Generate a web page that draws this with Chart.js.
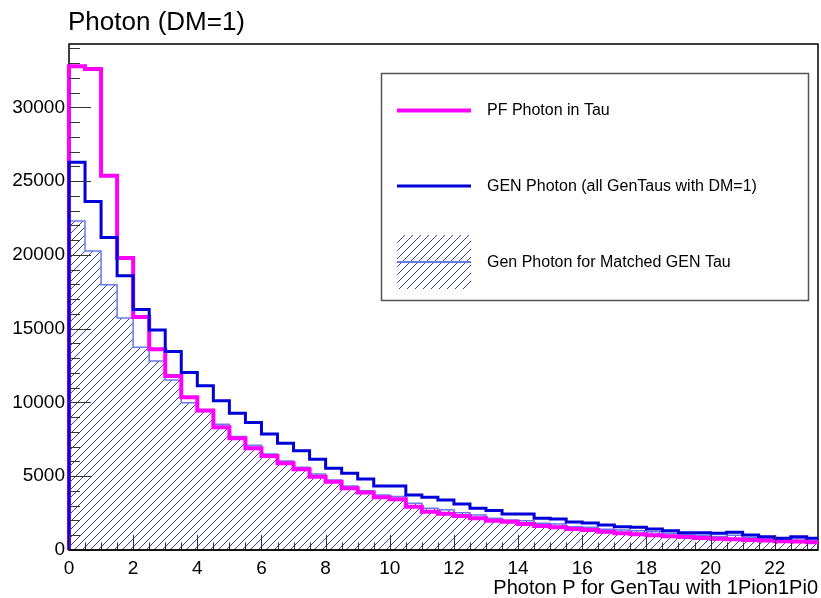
<!DOCTYPE html>
<html>
<head>
<meta charset="utf-8">
<title>Photon (DM=1)</title>
<script src="https://cdn.jsdelivr.net/npm/chart.js@4.4.1/dist/chart.umd.min.js"></script>
<style>
  html, body { margin: 0; padding: 0; background: #fff; }
  #wrap { width: 821px; height: 598px; position: relative; }
</style>
</head>
<body>
<div id="wrap"><canvas id="photonChart"></canvas></div>
<script>
// histogram bins: 0.5 wide, starting at 0
var binWidth = 0.5;

var pfPhoton = [
  32800, 32600, 25370, 19790, 15790, 13610, 11800, 10360, 9450, 8320,
  7580, 6900, 6380, 5880, 5470, 4970, 4630, 4180, 3890, 3570,
  3440, 2940, 2600, 2450, 2310, 2150, 1990, 1920, 1760, 1630,
  1540, 1420, 1360, 1240, 1130, 1070, 1000, 930, 880, 820,
  770, 730, 680, 640, 600, 570, 520
];
var genPhoton = [
  26280, 23630, 21190, 18590, 16300, 14920, 13450, 12030, 11130, 10110,
  9270, 8640, 7870, 7240, 6720, 6150, 5540, 5200, 4820, 4340,
  4340, 3730, 3570, 3390, 3120, 2830, 2670, 2440, 2440, 2150,
  2100, 1900, 1830, 1700, 1580, 1540, 1420, 1310, 1170, 1170,
  1130, 1210, 1020, 900, 790, 900, 800
];
var genMatched = [
  22300, 20260, 17980, 15720, 13750, 12820, 11530, 9990, 9380, 8530,
  7690, 7100, 6510, 6040, 5610, 5160, 4750, 4340, 4020, 3730,
  3620, 3170, 2830, 2720, 2530, 2370, 2150, 2040, 1990, 1810,
  1760, 1580, 1540, 1400, 1360, 1300, 1240, 1130, 1060, 1000,
  920, 1000, 850, 760, 700, 780, 620
];

var xTicks = [0, 2, 4, 6, 8, 10, 12, 14, 16, 18, 20, 22];
var yTicks = [0, 5000, 10000, 15000, 20000, 25000, 30000];
var xMinorStep = 0.5;
var yMinorStep = 1000;

var legendLabels = ['PF Photon in Tau', 'GEN Photon (all GenTaus with DM=1)', 'Gen Photon for Matched GEN Tau'];
var titleText = 'Photon (DM=1)';
var xTitle = 'Photon P for GenTau with 1Pion1Pi0';

var FONT = '"Liberation Sans", Arial, Helvetica, sans-serif';

// turn bin contents into a step outline: start at (0,0), one point per lower edge, close at last upper edge
function toSteps(values) {
  var pts = [{ x: 0, y: 0 }];
  values.forEach(function(v, i) {
    pts.push({ x: i * binWidth, y: v });
  });
  pts.push({ x: values.length * binWidth, y: values[values.length - 1] });
  return pts;
}

var canvas = document.getElementById('photonChart');
var ctx = canvas.getContext('2d');

function makeHatch() {
  var c = document.createElement('canvas');
  c.width = 8; c.height = 8;
  var g = c.getContext('2d');
  g.strokeStyle = '#3440ae';
  g.lineWidth = 1;
  g.beginPath();
  g.moveTo(-2, 10); g.lineTo(10, -2);
  g.moveTo(-2, 2); g.lineTo(2, -2);
  g.moveTo(6, 10); g.lineTo(10, 6);
  g.stroke();
  return ctx.createPattern(c, 'repeat');
}
var hatch = makeHatch();

// frame around the pad, drawn under the histograms
var framePlugin = {
  id: 'frame',
  beforeDatasetsDraw: function(chart) {
    var a = chart.chartArea, c = chart.ctx;
    c.save();
    c.strokeStyle = '#000';
    c.lineWidth = 1.5;
    c.strokeRect(a.left, a.top, a.right - a.left, a.bottom - a.top);
    c.restore();
  }
};

// ROOT style ticks pointing into the pad, plus title, axis title and legend
var decorPlugin = {
  id: 'decor',
  afterDatasetsDraw: function(chart) {
    var a = chart.chartArea, c = chart.ctx;
    var xs = chart.scales.x, ys = chart.scales.y;
    c.save();
    c.strokeStyle = '#333';
    c.lineWidth = 1;
    c.beginPath();
    var v, p;
    for (v = ys.min; v <= ys.max; v += yMinorStep) {
      p = Math.round(ys.getPixelForValue(v)) + 0.5;
      var len = (v % 5000 === 0) ? 22 : 11;
      c.moveTo(a.left, p); c.lineTo(a.left + len, p);
    }
    for (v = 0; v <= xs.max; v += xMinorStep) {
      p = Math.round(xs.getPixelForValue(v)) + 0.5;
      var lx = (v % 2 === 0) ? 15 : 7.5;
      c.moveTo(p, a.bottom); c.lineTo(p, a.bottom - lx);
    }
    c.stroke();

    // axis line along the bottom
    c.strokeStyle = '#000';
    c.lineWidth = 1.5;
    c.beginPath();
    c.moveTo(a.left, a.bottom); c.lineTo(a.right, a.bottom);
    c.stroke();

    // title
    c.fillStyle = '#000';
    c.textBaseline = 'alphabetic';
    c.textAlign = 'left';
    c.font = '26px ' + FONT;
    c.fillText(titleText, 68, 30);

    // x axis title, right aligned
    c.textAlign = 'right';
    c.font = '20px ' + FONT;
    c.fillText(xTitle, a.right, 594);

    // legend box
    var bx = 381.5, by = 73.5, bw = 427, bh = 227;
    c.fillStyle = '#fff';
    c.fillRect(bx, by, bw, bh);
    c.strokeStyle = '#555';
    c.lineWidth = 1.5;
    c.strokeRect(bx, by, bw, bh);

    var lx0 = 397, lx1 = 471, tx = 487;
    c.lineWidth = 4;
    c.strokeStyle = '#ff00ff';
    c.beginPath(); c.moveTo(lx0, 110.5); c.lineTo(lx1, 110.5); c.stroke();

    c.lineWidth = 3;
    c.strokeStyle = '#0000d8';
    c.beginPath(); c.moveTo(lx0, 186); c.lineTo(lx1, 186); c.stroke();

    c.fillStyle = hatch;
    c.fillRect(lx0, 235, lx1 - lx0, 54);
    c.lineWidth = 2;
    c.strokeStyle = '#6a7be8';
    c.beginPath(); c.moveTo(lx0, 262); c.lineTo(lx1, 262); c.stroke();

    c.fillStyle = '#000';
    c.textAlign = 'left';
    c.textBaseline = 'middle';
    c.font = '16px ' + FONT;
    c.fillText(legendLabels[0], tx, 111);
    c.fillText(legendLabels[1], tx, 187);
    c.fillText(legendLabels[2], tx, 263);
    c.restore();
  }
};

new Chart(canvas, {
  type: 'line',
  data: {
    datasets: [{
      label: legendLabels[1],
      data: toSteps(genPhoton),
      borderColor: '#0000d8',
      borderWidth: 3,
      fill: false
    }, {
      label: legendLabels[0],
      data: toSteps(pfPhoton),
      borderColor: '#ff00ff',
      borderWidth: 4,
      fill: false
    }, {
      label: legendLabels[2],
      data: toSteps(genMatched),
      borderColor: '#6a7be8',
      borderWidth: 1.5,
      backgroundColor: hatch,
      fill: 'origin'
    }]
  },
  options: {
    responsive: true,
    maintainAspectRatio: false,
    animation: false,
    devicePixelRatio: 1,
    layout: { padding: { top: 44, right: 3, left: 0, bottom: 0 } },
    datasets: {
      line: {
        stepped: 'before',
        pointRadius: 0,
        pointHoverRadius: 0,
        tension: 0,
        clip: { left: 3, top: 3, right: 0, bottom: 2 }
      }
    },
    plugins: {
      legend: { display: false },
      title: { display: false },
      tooltip: { enabled: false }
    },
    scales: {
      x: {
        type: 'linear',
        min: 0,
        max: 23.35,
        afterBuildTicks: function(scale) {
          scale.ticks = xTicks.map(function(v) { return { value: v }; });
        },
        afterFit: function(scale) { scale.height = 48; },
        grid: { display: false, drawTicks: false },
        border: { display: false },
        ticks: {
          padding: 7,
          maxRotation: 0,
          autoSkip: false,
          color: '#000',
          font: { family: FONT, size: 19 },
          callback: function(v) { return String(v); }
        }
      },
      y: {
        type: 'linear',
        min: 0,
        max: 34300,
        afterBuildTicks: function(scale) {
          scale.ticks = yTicks.map(function(v) { return { value: v }; });
        },
        afterFit: function(scale) { scale.width = 69; },
        grid: { display: false, drawTicks: false },
        border: { display: false },
        ticks: {
          padding: 4,
          color: '#000',
          font: { family: FONT, size: 19 },
          callback: function(v) { return String(v); }
        }
      }
    }
  },
  plugins: [framePlugin, decorPlugin]
});
</script>
</body>
</html>
